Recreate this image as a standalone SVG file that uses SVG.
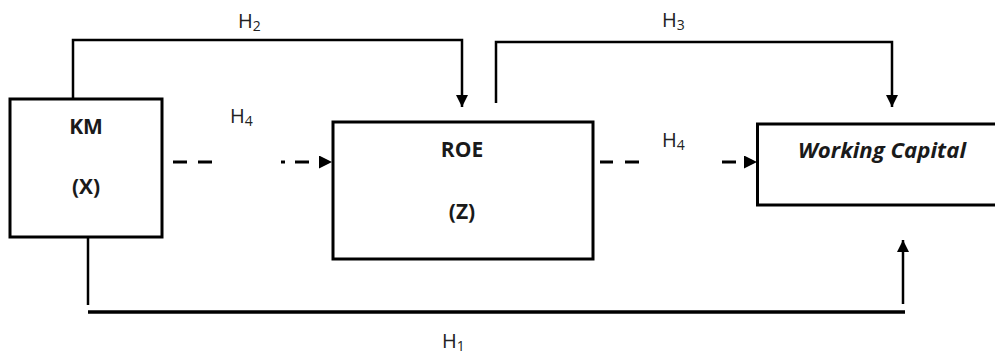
<svg xmlns="http://www.w3.org/2000/svg" width="995" height="354" viewBox="0 0 995 354">
<style>
.box{fill:#fff;stroke:#000;stroke-width:3}
.ln{fill:none;stroke:#000;stroke-width:2.5}
.dl{fill:none;stroke:#000;stroke-width:3}
.inv{fill:none;stroke:none}
.t{font-family:"Open Sans","Liberation Sans",sans-serif;font-size:21px;font-weight:bold;fill:#1a1a1a;text-anchor:middle}
.h{font-family:"Open Sans","Liberation Sans",sans-serif;font-size:20px;fill:#222}
.s{font-size:14px}
</style>
<defs>
<marker id="ah" viewBox="0 0 10 10" refX="10" refY="5" markerWidth="13" markerHeight="13" markerUnits="userSpaceOnUse" orient="auto"><path d="M0,0L10,5L0,10z" fill="#000"/></marker>
<marker id="ah2" viewBox="0 0 10 10" refX="10" refY="5" markerWidth="14" markerHeight="12" markerUnits="userSpaceOnUse" orient="auto"><path d="M0,0L10,5L0,10z" fill="#000"/></marker>
</defs>
<g id="connectors">
<path class="ln" d="M73,98V40H462V107" marker-end="url(#ah2)"/>
<path class="ln" d="M496,103V42H892V107" marker-end="url(#ah2)"/>
<path class="ln" d="M88,237V305"/>
<path d="M88,312H905" stroke="#000" stroke-width="3.5"/>
<path class="ln" d="M903,304V240" marker-end="url(#ah2)"/>
<path class="dl" d="M173,162H187M198,162H212M281,162H285M295,162H309"/>
<path class="inv" d="M318,162H332" marker-end="url(#ah)"/>
<path class="dl" d="M600,162H613M625,162H639M722,162H736"/>
<path class="inv" d="M743,162H757" marker-end="url(#ah)"/>
</g>
<g id="km">
<rect class="box" x="10" y="99" width="152" height="138"/>
<text class="t" x="86" y="134">KM</text>
<text class="t" x="86" y="194">(X)</text>
</g>
<g id="roe">
<rect class="box" x="333" y="122" width="260" height="137"/>
<text class="t" x="462" y="157">ROE</text>
<text class="t" x="462" y="219">(Z)</text>
</g>
<g id="wc">
<rect class="box" x="757.5" y="124" width="245" height="81"/>
<text class="t" x="882" y="158" font-style="italic" textLength="168" lengthAdjust="spacingAndGlyphs">Working Capital</text>
</g>
<g id="labels">
<text class="h" x="238" y="28">H<tspan class="s" dy="3">2</tspan></text>
<text class="h" x="662" y="27">H<tspan class="s" dy="3">3</tspan></text>
<text class="h" x="230" y="123">H<tspan class="s" dy="3">4</tspan></text>
<text class="h" x="662" y="147">H<tspan class="s" dy="3">4</tspan></text>
<text class="h" x="442" y="348">H<tspan class="s" dy="3">1</tspan></text>
</g>
</svg>
